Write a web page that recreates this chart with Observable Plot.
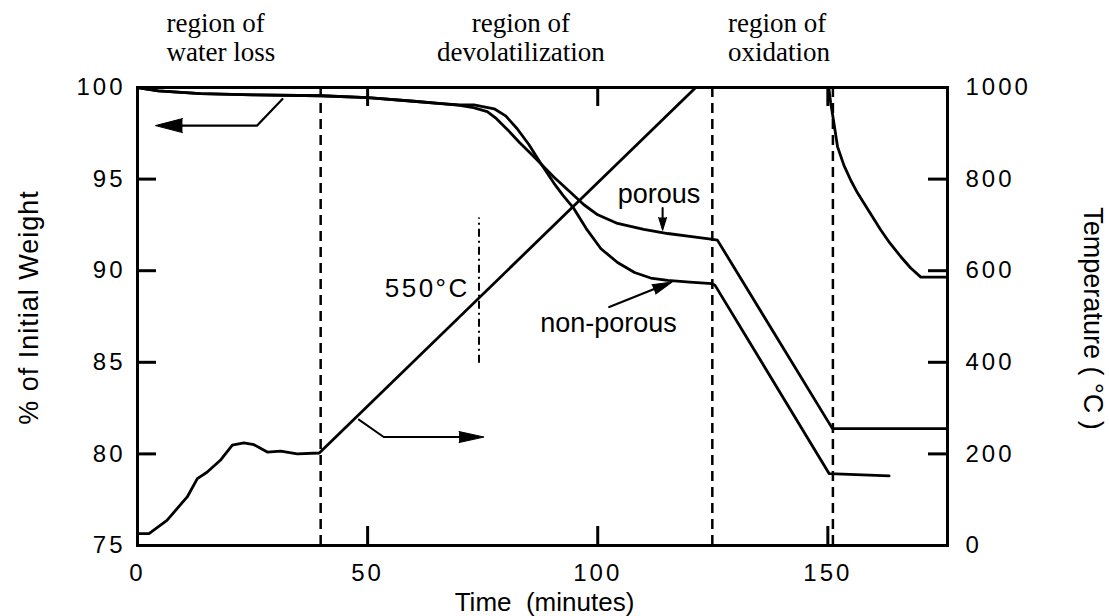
<!DOCTYPE html>
<html><head><meta charset="utf-8">
<script src="https://cdn.jsdelivr.net/npm/d3@7"></script>
<script src="https://cdn.jsdelivr.net/npm/@observablehq/plot@0.6"></script>
<style>
html,body{margin:0;padding:0;background:#fff;}
#chart svg{display:block;}
g[aria-label="y-axis tick label"] text, g[aria-label="x-axis tick label"] text { letter-spacing: 3px; }
</style></head><body><div id="chart"></div>
<script>
// ---- data ----
const timeTicks = [0, 50, 100, 150];
const innerTimeTicks = [50, 100, 150];
const weightTicks = [75, 80, 85, 90, 95, 100];
const innerWeightTicks = [80, 85, 90, 95];
const tempTicks = [0, 200, 400, 600, 800, 1000];
const innerTempTicks = [200, 400, 600, 800];
const regionBoundaries = [39.8, 124.9, 151.1];
const marker550Time = [74.2];

const tempTime  = [0, 2.5, 6.4, 10.8, 13, 15.1, 18, 20.6, 23.1, 25.3, 28.2, 31.1, 34.7, 39.5, 121.3, 150.2, 150.6, 151.2, 152.1, 153.5, 155, 156.5, 158.5, 161.5, 163.5, 165.9, 168, 170.2, 176];
const tempValue = [26, 26, 55, 106, 146, 160, 186, 219, 224, 220, 204, 206, 200, 202, 1000, 1000, 968, 930, 871, 830, 797, 769, 737, 689, 660, 630, 606, 586, 586];

const porousTime   = [0, 4.5, 13.7, 25, 39.8, 50, 60, 66, 70, 73, 76, 78, 80.4, 83, 86.2, 90.5, 94, 97, 100, 104.3, 110, 115.2, 120, 124.6, 126, 151, 176];
const porousWeight = [100, 99.82, 99.67, 99.6, 99.55, 99.45, 99.25, 99.12, 99.03, 98.9, 98.68, 98.3, 97.7, 97.0, 96.2, 95.1, 94.3, 93.6, 93.05, 92.58, 92.25, 92.03, 91.87, 91.72, 91.67, 81.38, 81.38];

const nonPorousTime   = [0, 4.5, 13.7, 25, 39.8, 50, 60, 66, 70, 73.1, 77.5, 80, 82.5, 85, 87.6, 90.5, 92.5, 94.8, 97.5, 100.7, 104.3, 108, 111.5, 115.2, 120, 124.8, 125.5, 150.3, 163.3];
const nonPorousWeight = [100, 99.82, 99.67, 99.6, 99.55, 99.45, 99.25, 99.12, 99.05, 99.05, 98.84, 98.45, 97.75, 96.9, 95.86, 94.77, 94.1, 93.4, 92.3, 91.2, 90.45, 89.9, 89.6, 89.47, 89.38, 89.3, 89.2, 78.92, 78.8];

const regionLabels = ["region of\nwater loss", "region of\ndevolatilization", "region of\noxidation"];

// ---- layout ----
const W = 1109, H = 616;
const mL = 137, mR = 162, mT = 87, mB = 71;
const frameW = W - mL - mR, frameH = H - mT - mB;
const tickLen = 19;
const toW = T => 75 + T / 40;   // temperature mapped onto the weight axis

const temp = tempTime.map((t, i) => ({t, y: toW(tempValue[i])}));
const porous = porousTime.map((t, i) => ({t, y: porousWeight[i]}));
const nonPorous = nonPorousTime.map((t, i) => ({t, y: nonPorousWeight[i]}));

const sans = "'Liberation Sans', Arial, Helvetica, sans-serif";
const serif = "'Liberation Serif', 'Times New Roman', Times, serif";
const lw = 2.8;

const plot = Plot.plot({
  width: W, height: H,
  marginLeft: mL, marginRight: mR, marginTop: mT, marginBottom: mB,
  style: {fontFamily: sans, fontSize: "24px", background: "white", color: "black", overflow: "visible"},
  x: {domain: [0, 176]},
  y: {domain: [75, 100]},
  marks: [
    Plot.ruleX(regionBoundaries, {stroke: "black", strokeWidth: 2.5, strokeDasharray: "10,6"}),
    Plot.ruleX(marker550Time, {y1: 84.95, y2: 92.87, stroke: "black", strokeWidth: 2, strokeDasharray: "8,4,2,4"}),
    Plot.line(temp, {x: "t", y: "y", stroke: "black", strokeWidth: lw}),
    Plot.line(porous, {x: "t", y: "y", stroke: "black", strokeWidth: lw}),
    Plot.line(nonPorous, {x: "t", y: "y", stroke: "black", strokeWidth: lw}),
    // inward ticks
    Plot.ruleX(innerTimeTicks, {insetTop: frameH - tickLen, stroke: "black", strokeWidth: 3}),
    Plot.ruleX(innerTimeTicks, {insetBottom: frameH - tickLen, stroke: "black", strokeWidth: 3}),
    Plot.ruleY(innerWeightTicks, {insetRight: frameW - tickLen, stroke: "black", strokeWidth: 3}),
    Plot.ruleY(innerTempTicks.map(toW), {insetLeft: frameW - tickLen, stroke: "black", strokeWidth: 3}),
    Plot.frame({stroke: "black", strokeWidth: 3}),
    Plot.axisX(timeTicks, {tickSize: 0, tickPadding: 18, fontSize: 24, label: null}),
    Plot.axisY(weightTicks, {tickSize: 0, tickPadding: 12, fontSize: 24, label: null}),
    Plot.axisY(tempTicks.map(toW), {anchor: "right", tickSize: 0, tickPadding: 18, fontSize: 24, label: null,
      tickFormat: d => String(Math.round((d - 75) * 40))}),
    // axis titles
    Plot.text(["Time  (minutes)"], {frameAnchor: "bottom", textAnchor: "middle", lineAnchor: "bottom", dy: 65, dx: 2, fontSize: 26}),
    Plot.text(["% of Initial Weight"], {frameAnchor: "left", textAnchor: "middle", lineAnchor: "bottom", rotate: -90, dx: -100, dy: -9, fontSize: 27}),
    Plot.text(["Temperature ( °C )"], {frameAnchor: "right", textAnchor: "middle", lineAnchor: "bottom", rotate: 90, dx: 136, dy: 2, fontSize: 27}),
    // region headers
    Plot.text([regionLabels[0]], {x: () => 6.3, y: () => 100, textAnchor: "start", lineAnchor: "bottom", lineHeight: 1.04, dy: -27, fontFamily: serif, fontSize: 27}),
    Plot.text([regionLabels[1]], {x: () => 83.3, y: () => 100, textAnchor: "middle", lineAnchor: "bottom", lineHeight: 1.04, dy: -27, fontFamily: serif, fontSize: 27}),
    Plot.text([regionLabels[2]], {x: () => 128.3, y: () => 100, textAnchor: "start", lineAnchor: "bottom", lineHeight: 1.04, dy: -27, fontFamily: serif, fontSize: 27}),
    // annotations
    Plot.text(["porous"], {x: () => 113.3, y: () => 93.72, lineAnchor: "bottom", fontSize: 27}),
    Plot.text(["non-porous"], {x: () => 102.35, y: () => 86.64, lineAnchor: "bottom", fontSize: 27}),
    Plot.text(["550°C"], {x: () => 72.2, y: () => 88.55, textAnchor: "end", lineAnchor: "bottom", fontSize: 26}),
    // arrows: shafts
    Plot.line([[31.5, 99.37], [26.0, 97.92], [8, 97.92]], {stroke: "black", strokeWidth: 2.2}),
    Plot.line([[48.1, 81.87], [53.5, 80.92], [71, 80.92]], {stroke: "black", strokeWidth: 2}),
    Plot.line([[114.1, 93.42], [114.1, 92.6]], {stroke: "black", strokeWidth: 2}),
    Plot.line([[102.5, 88.02], [113.5, 89.12]], {stroke: "black", strokeWidth: 2.2}),
    // arrow heads
    Plot.vector([[3.9, 97.92]], {x: d => d[0], y: d => d[1], length: 27, rotate: -90, anchor: "end", shape: "spike", r: 7, fill: "black", stroke: "black", strokeWidth: 1}),
    Plot.vector([[75.3, 80.92]], {x: d => d[0], y: d => d[1], length: 25, rotate: 90, anchor: "end", shape: "spike", r: 5.5, fill: "black", stroke: "black", strokeWidth: 1}),
    Plot.vector([[114.1, 92.2]], {x: d => d[0], y: d => d[1], length: 13, rotate: 180, anchor: "end", shape: "spike", r: 4, fill: "black", stroke: "black", strokeWidth: 1}),
    Plot.vector([[116.2, 89.39]], {x: d => d[0], y: d => d[1], length: 20, rotate: 68, anchor: "end", shape: "spike", r: 5, fill: "black", stroke: "black", strokeWidth: 1})
  ]
});

document.getElementById("chart").appendChild(plot);
d3.select(plot).selectAll("text").each(function () {
  const s = this.textContent;
  if (s === "550°C") this.setAttribute("letter-spacing", "2.5px");
  if (s === "% of Initial Weight") this.setAttribute("letter-spacing", "1px");
});
</script></body></html>
